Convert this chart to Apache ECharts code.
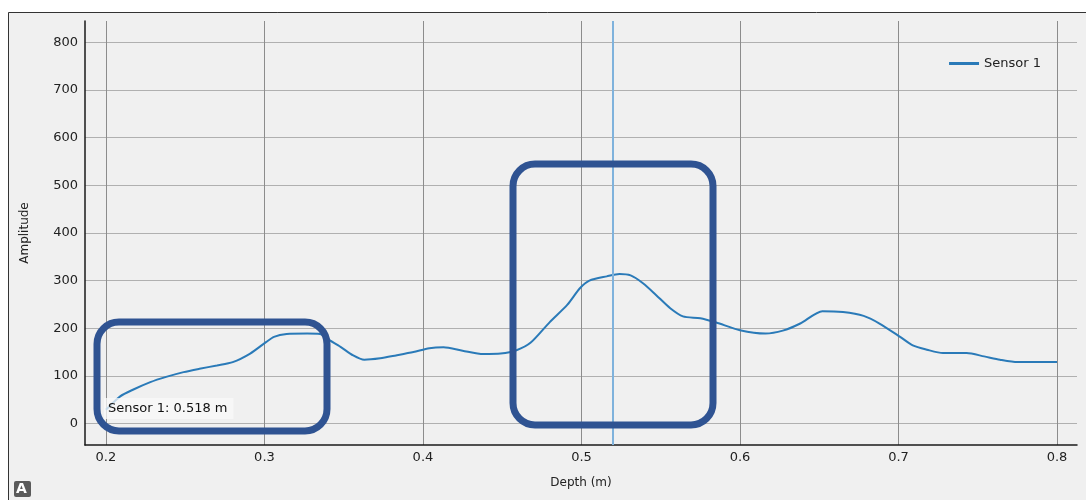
<!DOCTYPE html>
<html>
<head>
<meta charset="utf-8">
<title>Sensor 1</title>
<script src="https://cdn.jsdelivr.net/npm/echarts@6/dist/echarts.min.js"></script>
<style>
  html, body { margin: 0; padding: 0; background: #fff; }
  #chart { width: 1086px; height: 500px; }
</style>
</head>
<body>
<div id="chart"></div>
<script>
// 数据
const depths = [
  0.200, 0.209, 0.217, 0.228, 0.238, 0.249, 0.259, 0.270, 0.280, 0.291,
  0.301, 0.306, 0.314, 0.327, 0.335, 0.341, 0.348, 0.356, 0.363, 0.373,
  0.383, 0.394, 0.404, 0.413, 0.425, 0.438, 0.449, 0.459, 0.468, 0.480,
  0.491, 0.499, 0.505, 0.516, 0.524, 0.531, 0.539, 0.547, 0.556, 0.564,
  0.575, 0.585, 0.600, 0.616, 0.627, 0.638, 0.652, 0.665, 0.678, 0.688,
  0.701, 0.709, 0.718, 0.728, 0.743, 0.754, 0.764, 0.775, 0.785, 0.800
]
const amplitudes = [
  29, 57, 71, 87, 98, 108, 115, 122, 129, 147,
  171, 182, 188, 189, 188, 175, 161, 143, 134, 137,
  143, 150, 158, 160, 153, 146, 147, 154, 170, 213,
  249, 284, 300, 309, 314, 311, 294, 270, 242, 225,
  221, 212, 196, 189, 195, 210, 236, 234, 226, 210,
  182, 164, 155, 148, 148, 141, 134, 129, 129, 129
]
const xTicks = [0.2, 0.3, 0.4, 0.5, 0.6, 0.7, 0.8]
const yTicks = [0, 100, 200, 300, 400, 500, 600, 700, 800]
const seriesName = 'Sensor 1'
const cursorDepth = 0.518

const fontFamily = '"DejaVu Sans", sans-serif'
const textColor = '#222'
const lineColor = '#2a7ab8'
const boxColor = '#2f5392'

// 注释框 (pixel overlay)
const annotationBoxes = [
  { x: 97, y: 322, width: 230, height: 109 },
  { x: 513, y: 164, width: 200, height: 261 }
]

const getChartOptions = () => {
  const seriesData = depths.map((d, i) => [d, amplitudes[i]])

  return {
    backgroundColor: '#f0f0f0',
    animation: false,
    textStyle: { fontFamily },
    grid: {
      left: 85,
      right: 9,
      top: 21,
      bottom: 55
    },
    legend: {
      data: [{ name: seriesName, icon: 'rect' }],
      right: 40,
      top: 52,
      itemWidth: 30,
      itemHeight: 3,
      itemGap: 10,
      itemStyle: { color: lineColor },
      textStyle: { color: textColor, fontSize: 13, fontFamily }
    },
    xAxis: {
      type: 'value',
      min: 0.1868,
      max: 0.8126,
      name: 'Depth (m)',
      nameLocation: 'middle',
      nameGap: 32,
      nameTextStyle: { color: textColor, fontSize: 12, fontFamily },
      axisLine: { show: true, onZero: false, lineStyle: { color: '#1a1a1a', width: 1.5 } },
      axisTick: { show: false, customValues: xTicks },
      axisLabel: {
        customValues: xTicks,
        color: textColor,
        fontSize: 13,
        margin: 6,
        formatter: (v) => v.toFixed(1)
      },
      splitLine: { show: true, lineStyle: { color: '#8c8c8c', width: 1 } }
    },
    yAxis: {
      type: 'value',
      min: -45,
      max: 845,
      name: 'Amplitude',
      nameLocation: 'middle',
      nameGap: 54,
      nameTextStyle: { color: textColor, fontSize: 12, fontFamily },
      axisLine: { show: true, lineStyle: { color: '#1a1a1a', width: 1.5 } },
      axisTick: { show: false, customValues: yTicks },
      axisLabel: {
        customValues: yTicks,
        color: textColor,
        fontSize: 13,
        margin: 7
      },
      splitLine: { show: true, lineStyle: { color: '#b0b0b0', width: 1 } }
    },
    series: [
      {
        name: seriesName,
        type: 'line',
        data: seriesData,
        symbol: 'none',
        smooth: 0.25,
        lineStyle: { color: lineColor, width: 2 },
        itemStyle: { color: lineColor },
        markLine: {
          silent: true,
          symbol: 'none',
          label: { show: false },
          lineStyle: { color: '#7fb2dc', width: 2, type: 'solid' },
          data: [{ xAxis: cursorDepth }]
        }
      }
    ],
    graphic: [
      // 外框
      { type: 'rect', shape: { x: 0, y: 0, width: 1086, height: 12 }, style: { fill: '#fff' }, silent: true },
      { type: 'rect', shape: { x: 0, y: 0, width: 8, height: 500 }, style: { fill: '#fff' }, silent: true },
      { type: 'line', shape: { x1: 8.5, y1: 12.5, x2: 1086, y2: 12.5 }, style: { stroke: '#333', lineWidth: 1 }, silent: true },
      { type: 'line', shape: { x1: 8.5, y1: 12.5, x2: 8.5, y2: 500 }, style: { stroke: '#333', lineWidth: 1 }, silent: true },
      // 光标标签
      {
        type: 'text',
        left: 104,
        top: 398,
        z: 50,
        style: {
          text: seriesName + ': ' + cursorDepth.toFixed(3) + ' m',
          fill: '#111',
          font: '13px ' + fontFamily,
          backgroundColor: 'rgba(250,250,250,0.75)',
          padding: [4, 6, 4, 4]
        }
      },
      // 注释框
      ...annotationBoxes.map((b) => ({
        type: 'rect',
        z: 100,
        silent: true,
        shape: { x: b.x, y: b.y, width: b.width, height: b.height, r: 22 },
        style: { fill: 'none', stroke: boxColor, lineWidth: 7 }
      })),
      // "A" 图标
      {
        type: 'rect',
        z: 60,
        shape: { x: 14, y: 481, width: 17, height: 16, r: 2 },
        style: { fill: '#5a5a5a' }
      },
      {
        type: 'text',
        z: 61,
        left: 16,
        top: 482,
        style: { text: 'A', fill: '#fff', font: 'bold 14px ' + fontFamily }
      }
    ]
  }
}

// 初始化图表
const initChart = () => {
  const chart = echarts.init(document.getElementById('chart'), null, { renderer: 'canvas' })
  chart.setOption(getChartOptions())
  return chart
}

initChart()
</script>
</body>
</html>
